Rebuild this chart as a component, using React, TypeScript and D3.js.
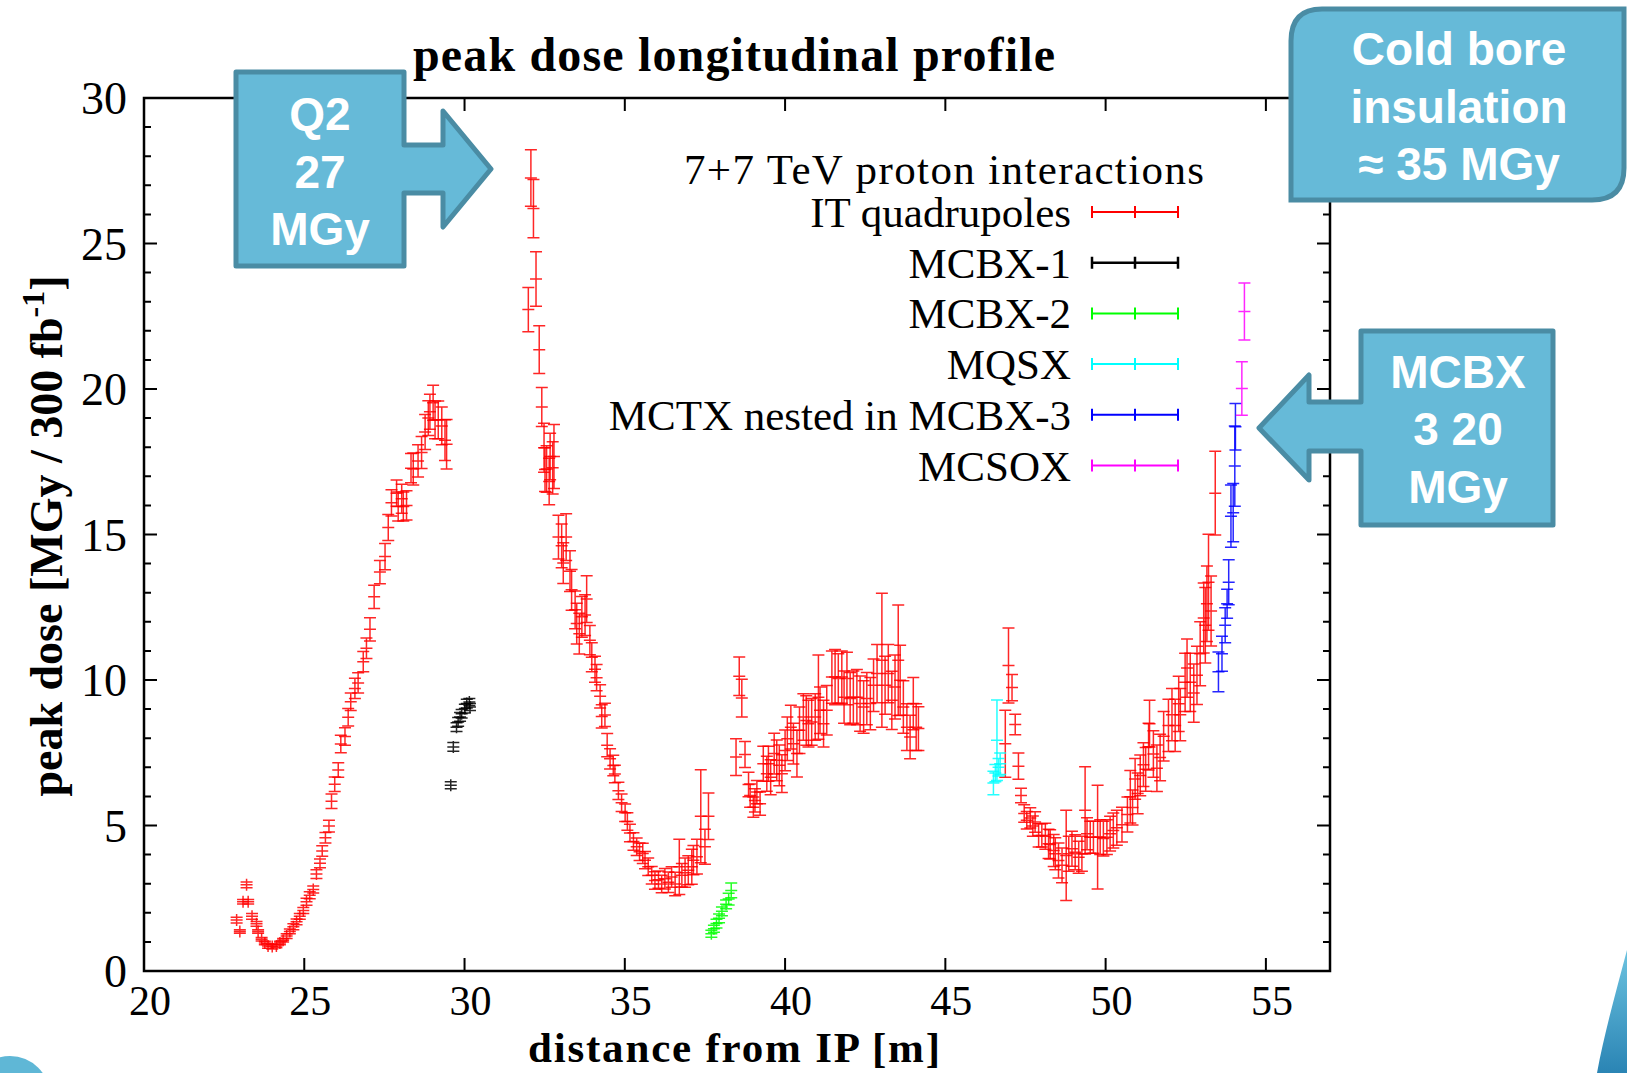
import * as d3 from "d3";
import { useRef, useEffect } from "react";

// [distance from IP (m), peak dose (MGy), error (MGy)]
type Pt = [number, number, number];

const xTicks = [20, 25, 30, 35, 40, 45, 50, 55];
const yTicks = [0, 5, 10, 15, 20, 25, 30];
const yMinorTicks = d3.range(0, 31, 1);

const itQuadrupoles: Pt[] = [
  [22.89, 1.75, 0.1], [22.99, 1.36, 0.06], [23.09, 2.38, 0.08], [23.2, 2.96, 0.1], [23.25, 2.38, 0.08],
  [23.37, 1.88, 0.1], [23.51, 1.62, 0.08], [23.56, 1.36, 0.06], [23.67, 1.09, 0.06], [23.77, 0.96, 0.06],
  [23.87, 0.86, 0.08], [24.0, 0.84, 0.08], [24.13, 0.86, 0.06], [24.24, 0.96, 0.06], [24.34, 1.06, 0.06],
  [24.45, 1.2, 0.08], [24.55, 1.36, 0.08], [24.66, 1.52, 0.1], [24.76, 1.69, 0.1], [24.86, 1.88, 0.1],
  [24.97, 2.08, 0.1], [25.07, 2.38, 0.12], [25.17, 2.6, 0.12], [25.28, 2.8, 0.12], [25.38, 3.33, 0.15],
  [25.49, 3.7, 0.15], [25.56, 4.12, 0.18], [25.66, 4.58, 0.18], [25.77, 4.98, 0.2], [25.85, 5.83, 0.25],
  [25.95, 6.42, 0.25], [26.06, 6.91, 0.25], [26.14, 7.8, 0.3], [26.27, 8.06, 0.3], [26.37, 8.72, 0.3],
  [26.45, 9.25, 0.3], [26.58, 9.71, 0.35], [26.68, 9.9, 0.35], [26.84, 10.63, 0.35], [26.94, 11.09, 0.35],
  [27.05, 11.74, 0.4], [27.18, 12.86, 0.4], [27.36, 13.71, 0.4], [27.52, 14.24, 0.45], [27.62, 15.24, 0.45],
  [27.72, 16.09, 0.45], [27.88, 16.42, 0.45], [27.93, 15.96, 0.5], [28.04, 16.23, 0.5], [28.09, 15.96, 0.5],
  [28.19, 16.0, 0.5], [28.33, 17.28, 0.5], [28.4, 17.25, 0.55], [28.55, 17.53, 0.55], [28.66, 17.82, 0.55],
  [28.77, 18.52, 0.6], [28.87, 19.0, 0.6], [28.92, 19.22, 0.6], [29.02, 19.53, 0.6], [29.08, 18.94, 0.65],
  [29.18, 18.94, 0.65], [29.29, 18.73, 0.65], [29.39, 18.24, 0.7], [29.44, 18.1, 0.85],
  [31.99, 22.73, 0.76], [32.07, 27.25, 0.97], [32.15, 26.2, 1.0], [32.23, 23.78, 0.94], [32.33, 21.35, 0.82],
  [32.41, 19.38, 0.67], [32.48, 17.98, 0.84], [32.51, 17.23, 0.75], [32.56, 17.25, 0.8], [32.64, 16.82, 0.8],
  [32.67, 17.68, 0.8], [32.75, 17.29, 0.9], [32.79, 17.68, 1.1], [32.93, 14.91, 0.75], [33.03, 14.61, 0.75],
  [33.08, 14.02, 0.7], [33.17, 14.91, 0.8], [33.29, 13.74, 0.7], [33.34, 13.1, 0.7], [33.45, 12.41, 0.65],
  [33.5, 11.94, 0.7], [33.58, 11.59, 0.7], [33.66, 12.17, 0.7], [33.76, 12.23, 0.7], [33.81, 12.78, 0.8],
  [33.91, 11.37, 0.5], [33.97, 10.78, 0.5], [34.07, 10.37, 0.45], [34.12, 10.08, 0.45], [34.23, 9.44, 0.4],
  [34.28, 8.75, 0.4], [34.38, 8.8, 0.4], [34.45, 7.76, 0.4], [34.54, 7.29, 0.35], [34.64, 7.06, 0.35],
  [34.69, 6.77, 0.3], [34.8, 6.19, 0.3], [34.9, 5.78, 0.3], [35.01, 5.44, 0.3], [35.08, 5.14, 0.3],
  [35.16, 4.74, 0.3], [35.27, 4.45, 0.3], [35.37, 4.27, 0.3], [35.46, 4.1, 0.3], [35.56, 4.04, 0.35],
  [35.63, 3.81, 0.3], [35.73, 3.58, 0.3], [35.84, 3.29, 0.3], [35.94, 3.11, 0.3], [36.05, 3.14, 0.3],
  [36.15, 2.99, 0.3], [36.25, 3.17, 0.35], [36.36, 3.05, 0.35], [36.46, 3.23, 0.35], [36.57, 2.99, 0.4],
  [36.7, 3.58, 0.95], [36.78, 3.29, 0.4], [36.88, 3.38, 0.5], [36.98, 3.46, 0.5], [37.09, 3.58, 0.6],
  [37.14, 3.81, 0.5], [37.25, 3.93, 0.6], [37.37, 5.32, 1.6], [37.5, 4.27, 0.6], [37.61, 5.32, 0.8],
  [38.47, 7.35, 0.63], [38.57, 10.13, 0.66], [38.65, 9.38, 0.65], [38.75, 7.44, 0.45], [38.86, 6.41, 0.42],
  [38.91, 6.03, 0.4], [39.01, 5.63, 0.35], [39.06, 5.86, 0.4], [39.12, 6.15, 0.4], [39.22, 5.75, 0.4],
  [39.32, 7.12, 0.6], [39.43, 6.78, 0.6], [39.48, 7.12, 0.6], [39.55, 6.66, 0.6], [39.66, 7.47, 0.7],
  [39.74, 7.24, 0.7], [39.82, 7.07, 0.7], [39.9, 6.78, 0.65], [40.0, 7.58, 0.7], [40.07, 7.98, 0.75],
  [40.18, 8.38, 0.75], [40.26, 7.81, 0.7], [40.37, 7.47, 0.8], [40.45, 8.27, 0.8], [40.57, 8.73, 0.8],
  [40.66, 8.61, 0.85], [40.73, 8.5, 0.8], [40.83, 8.56, 0.8], [40.94, 8.73, 0.8], [41.04, 9.41, 1.45],
  [41.09, 8.96, 0.8], [41.2, 8.5, 0.8], [41.3, 8.96, 0.85], [41.46, 10.1, 0.9], [41.56, 10.1, 0.95],
  [41.66, 10.05, 0.85], [41.77, 10.1, 0.9], [41.84, 9.41, 0.9], [41.93, 10.05, 0.9], [42.03, 9.36, 0.9],
  [42.13, 9.41, 0.9], [42.24, 9.41, 0.95], [42.34, 9.19, 0.95], [42.45, 9.07, 0.9], [42.55, 9.36, 0.9],
  [42.66, 9.19, 0.9], [42.76, 9.82, 0.9], [42.87, 10.22, 1.0], [43.02, 10.68, 2.3], [43.12, 9.82, 1.0],
  [43.22, 10.22, 1.0], [43.33, 9.3, 1.0], [43.43, 9.76, 1.1], [43.53, 10.68, 1.9], [43.59, 9.99, 1.2],
  [43.69, 9.07, 0.9], [43.8, 8.38, 0.8], [43.9, 8.04, 0.75], [44.0, 9.19, 0.9], [44.09, 8.38, 0.8],
  [44.16, 8.33, 0.75],
  [46.87, 7.81, 1.15], [46.97, 10.5, 1.29], [47.08, 9.74, 0.45], [47.18, 8.47, 0.35], [47.28, 7.04, 0.45],
  [47.36, 6.03, 0.25], [47.46, 5.41, 0.3], [47.54, 5.18, 0.3], [47.65, 5.26, 0.35], [47.73, 4.98, 0.35],
  [47.8, 5.12, 0.35], [47.91, 4.66, 0.4], [48.01, 4.66, 0.4], [48.12, 4.63, 0.45], [48.22, 4.37, 0.5],
  [48.27, 4.35, 0.5], [48.38, 4.14, 0.55], [48.43, 4.03, 0.55], [48.53, 3.8, 0.6], [48.64, 3.63, 0.6],
  [48.77, 3.97, 1.55], [48.85, 4.03, 0.6], [48.95, 4.2, 0.6], [49.05, 4.08, 0.6], [49.16, 3.91, 0.55],
  [49.26, 4.03, 0.6], [49.36, 5.52, 1.5], [49.42, 4.72, 0.55], [49.52, 4.6, 0.55], [49.62, 4.6, 0.55],
  [49.75, 4.6, 1.78], [49.83, 4.6, 0.6], [49.93, 4.55, 0.6], [50.04, 4.6, 0.6], [50.14, 4.72, 0.6],
  [50.24, 4.83, 0.6], [50.35, 4.92, 0.6], [50.51, 5.03, 0.6], [50.68, 5.38, 0.6], [50.77, 5.99, 0.9],
  [50.84, 5.62, 0.6], [50.92, 6.6, 0.7], [51.0, 6.1, 0.7], [51.08, 6.72, 0.7], [51.18, 7.09, 0.75],
  [51.25, 6.93, 0.75], [51.34, 7.71, 0.8], [51.37, 8.5, 0.8], [51.49, 7.46, 0.8], [51.6, 6.97, 0.8],
  [51.7, 7.34, 0.8], [51.81, 8.07, 0.85], [51.96, 8.44, 0.9], [52.07, 8.81, 0.9], [52.17, 8.44, 0.9],
  [52.28, 9.18, 0.95], [52.33, 8.81, 0.9], [52.48, 9.92, 1.0], [52.54, 10.41, 1.0], [52.64, 9.92, 1.0],
  [52.75, 9.55, 1.0], [52.85, 10.16, 1.0], [52.95, 10.9, 1.1], [53.06, 12.13, 1.2], [53.11, 11.88, 1.3],
  [53.16, 12.62, 1.3], [53.21, 13.36, 1.65], [53.29, 12.37, 1.2], [53.42, 16.42, 1.44],
];

const mcbx1: Pt[] = [
  [29.57, 6.38, 0.12], [29.65, 7.7, 0.15], [29.75, 8.38, 0.15], [29.8, 8.56, 0.15], [29.86, 8.73, 0.15],
  [29.91, 8.84, 0.15], [30.01, 9.02, 0.15], [30.07, 9.19, 0.15], [30.15, 9.24, 0.12], [30.17, 9.07, 0.12],
];

const mcbx2: Pt[] = [
  [37.7, 1.28, 0.12], [37.78, 1.45, 0.12], [37.86, 1.63, 0.15], [37.94, 1.81, 0.15],
  [38.03, 2.05, 0.15], [38.16, 2.29, 0.15], [38.24, 2.47, 0.2], [38.32, 2.77, 0.25],
];

const mqsx: Pt[] = [
  [46.5, 6.46, 0.4], [46.56, 6.8, 0.3], [46.61, 7.93, 1.38], [46.66, 7.0, 0.3], [46.71, 7.12, 0.37],
];

const mctx: Pt[] = [
  [53.52, 10.28, 0.68], [53.63, 10.9, 0.6], [53.73, 11.88, 0.6], [53.79, 12.62, 0.5], [53.84, 13.36, 0.77],
  [53.91, 15.63, 1.07], [53.98, 15.75, 1.0], [54.03, 17.35, 1.38], [54.05, 18.7, 0.8],
];

const mcsox: Pt[] = [
  [54.25, 20.02, 0.92], [54.33, 22.66, 0.98],
];

const seriesNames = [
  "IT quadrupoles",
  "MCBX-1",
  "MCBX-2",
  "MQSX",
  "MCTX nested in MCBX-3",
  "MCSOX",
];
const seriesColors = ["#ff0000", "#000000", "#00ff00", "#00ffff", "#0000ff", "#ff00ff"];
const seriesData = [itQuadrupoles, mcbx1, mcbx2, mqsx, mctx, mcsox];

const chartTitle = "peak dose longitudinal profile";
const keyTitle = "7+7 TeV proton interactions";
const xTitle = "distance from IP [m]";

const q2Lines = ["Q2", "27", "MGy"];
const coldLines = ["Cold bore", "insulation", "\u2248 35 MGy"];
const mcbxLines = ["MCBX", "3 20", "MGy"];

const App = () => {
  const container = useRef<SVGSVGElement | null>(null);

  useEffect(() => {
    const W = 1627;
    const H = 1073;
    const margins = { l: 144, r: 297, t: 98, b: 102 };
    const plotW = W - margins.l - margins.r;
    const plotH = H - margins.t - margins.b;

    const svg = d3.select(container.current);
    svg.selectAll("*").remove();

    const xScale = d3.scaleLinear().domain([20, 57]).range([margins.l, margins.l + plotW]);
    const yScale = d3.scaleLinear().domain([0, 30]).range([margins.t + plotH, margins.t]);

    const serif = "'Liberation Serif', 'DejaVu Serif', serif";
    const sans = "'Liberation Sans', Arial, sans-serif";

    // --- TICKS (inward, mirrored)
    const tickg = svg.append("g").attr("stroke", "#000").attr("stroke-width", 2);
    const x0 = margins.l;
    const x1 = margins.l + plotW;
    const y0 = margins.t + plotH;
    const y1 = margins.t;

    tickg
      .selectAll(".xt")
      .data(xTicks.filter((d) => d > 20))
      .join("path")
      .attr("d", (d) => `M${xScale(d)},${y0}V${y0 - 13}M${xScale(d)},${y1}V${y1 + 13}`);

    tickg
      .selectAll(".ym")
      .data(yMinorTicks.filter((d) => d % 5 !== 0))
      .join("path")
      .attr("d", (d) => `M${x0},${yScale(d)}H${x0 + 7}M${x1},${yScale(d)}H${x1 - 7}`);

    tickg
      .selectAll(".yt")
      .data(yTicks.filter((d) => d > 0 && d < 30))
      .join("path")
      .attr("d", (d) => `M${x0},${yScale(d)}H${x0 + 13}M${x1},${yScale(d)}H${x1 - 13}`);

    // --- FRAME
    svg
      .append("rect")
      .attr("x", x0)
      .attr("y", y1)
      .attr("width", plotW)
      .attr("height", plotH)
      .attr("fill", "none")
      .attr("stroke", "#000")
      .attr("stroke-width", 2.5);

    // --- TICK LABELS
    svg
      .selectAll(".xlab")
      .data(xTicks)
      .join("text")
      .attr("x", (d) => xScale(d) + 6)
      .attr("y", y0 + 44)
      .attr("text-anchor", "middle")
      .attr("font-family", serif)
      .attr("font-size", 42)
      .text((d) => d);

    svg
      .selectAll(".ylab")
      .data(yTicks)
      .join("text")
      .attr("x", x0 - 17)
      .attr("y", (d) => yScale(d) + 16)
      .attr("text-anchor", "end")
      .attr("font-family", serif)
      .attr("font-size", 46)
      .text((d) => d);

    // --- TITLES
    svg
      .append("text")
      .attr("x", 734)
      .attr("y", 71)
      .attr("text-anchor", "middle")
      .attr("font-family", serif)
      .attr("font-weight", "bold")
      .attr("font-size", 48)
      .attr("textLength", 642)
      .text(chartTitle);

    svg
      .append("text")
      .attr("x", 734)
      .attr("y", 1062)
      .attr("text-anchor", "middle")
      .attr("font-family", serif)
      .attr("font-weight", "bold")
      .attr("font-size", 43)
      .attr("textLength", 412)
      .text(xTitle);

    const yt = svg
      .append("text")
      .attr("transform", `translate(62,536)rotate(-90)`)
      .attr("text-anchor", "middle")
      .attr("font-family", serif)
      .attr("font-weight", "bold")
      .attr("font-size", 46);
    yt.append("tspan").text("peak dose [MGy / 300 fb");
    yt.append("tspan").attr("font-size", 32).attr("dy", -18).text("-1");
    yt.append("tspan").attr("dy", 18).text("]");

    // --- ERROR BARS
    const cap = 6;
    const errPath = (p: Pt) => {
      const cx = xScale(p[0]);
      const cy = yScale(p[1]);
      const lo = yScale(p[1] - p[2]);
      const hi = yScale(p[1] + p[2]);
      return (
        `M${cx},${lo}V${hi}` +
        `M${cx - cap},${lo}H${cx + cap}` +
        `M${cx - cap},${hi}H${cx + cap}` +
        `M${cx - cap},${cy}H${cx + cap}` +
        `M${cx},${cy - 6}V${cy + 6}`
      );
    };

    seriesData.forEach((data, i) => {
      svg
        .append("g")
        .attr("class", "series-" + i)
        .selectAll("path")
        .data(data)
        .join("path")
        .attr("d", errPath)
        .attr("fill", "none")
        .attr("stroke", seriesColors[i])
        .attr("stroke-width", 1.5)
        .attr("stroke-opacity", 0.85);
    });

    // --- LEGEND
    const legendg = svg.append("g").attr("class", "legend-g");
    legendg
      .append("text")
      .attr("x", 1204)
      .attr("y", 184)
      .attr("text-anchor", "end")
      .attr("font-family", serif)
      .attr("font-size", 43)
      .attr("textLength", 520)
      .text(keyTitle);

    const rowY = (i: number) => 212 + i * 50.7;
    legendg
      .selectAll(".legend-text")
      .data(seriesNames)
      .join("text")
      .attr("x", 1071)
      .attr("y", (d, i) => rowY(i) + 15)
      .attr("text-anchor", "end")
      .attr("font-family", serif)
      .attr("font-size", 43)
      .text((d) => d);

    legendg
      .selectAll(".legend-sample")
      .data(seriesNames)
      .join("path")
      .attr("d", (d, i) => {
        const y = rowY(i);
        return (
          `M1092,${y}H1178M1092,${y - 6}V${y + 6}M1178,${y - 6}V${y + 6}` +
          `M1135,${y - 6}V${y + 6}`
        );
      })
      .attr("fill", "none")
      .attr("stroke", (d, i) => seriesColors[i])
      .attr("stroke-width", (d, i) => (i === 1 ? 2.5 : 2));

    // --- CALLOUTS
    const fill = "#66bad8";
    const stroke = "#4a8ca4";

    svg
      .append("path")
      .attr(
        "d",
        "M236,72L404,72L404,145L443,145L443,111L491,169L443,227L443,193L404,193L404,266L236,266Z"
      )
      .attr("fill", fill)
      .attr("stroke", stroke)
      .attr("stroke-width", 5)
      .attr("stroke-linejoin", "round");

    svg
      .append("path")
      .attr(
        "d",
        "M1553,331L1553,525L1361,525L1361,451L1309,451L1309,480L1259,428L1309,375L1309,402L1361,402L1361,331Z"
      )
      .attr("fill", fill)
      .attr("stroke", stroke)
      .attr("stroke-width", 5)
      .attr("stroke-linejoin", "round");

    svg
      .append("path")
      .attr(
        "d",
        "M1322,9L1624,9L1624,168Q1624,200 1592,200L1291,200L1291,41Q1291,9 1322,9Z"
      )
      .attr("fill", fill)
      .attr("stroke", stroke)
      .attr("stroke-width", 5);

    const calloutText = (lines: string[], cx: number, base: number, step: number) => {
      svg
        .append("g")
        .selectAll("text")
        .data(lines)
        .join("text")
        .attr("x", cx)
        .attr("y", (d, i) => base + i * step)
        .attr("text-anchor", "middle")
        .attr("font-family", sans)
        .attr("font-weight", "bold")
        .attr("font-size", 46)
        .attr("fill", "#fff")
        .text((d) => d);
    };
    calloutText(q2Lines, 320, 130, 57.5);
    calloutText(coldLines, 1459, 65, 57.7);
    calloutText(mcbxLines, 1458, 388, 57.3);

    // --- DECORATIONS (slide template)
    const defs = svg.append("defs");
    const grad = defs
      .append("linearGradient")
      .attr("id", "swoosh")
      .attr("x1", 0)
      .attr("y1", 0)
      .attr("x2", 0)
      .attr("y2", 1);
    grad.append("stop").attr("offset", "0%").attr("stop-color", "#6cc3e0");
    grad.append("stop").attr("offset", "100%").attr("stop-color", "#2a84b4");

    svg
      .append("path")
      .attr("d", "M1627,950C1615,995 1604,1035 1597,1073L1627,1073Z")
      .attr("fill", "url(#swoosh)");

    svg
      .append("ellipse")
      .attr("cx", 10)
      .attr("cy", 1096)
      .attr("rx", 40)
      .attr("ry", 40)
      .attr("fill", "#5fb7d6");
  }, []);

  return (
    <svg
      ref={container}
      width={1627}
      height={1073}
      style={{ position: "absolute", left: 0, top: 0, background: "#fff" }}
    />
  );
};

export default App;
